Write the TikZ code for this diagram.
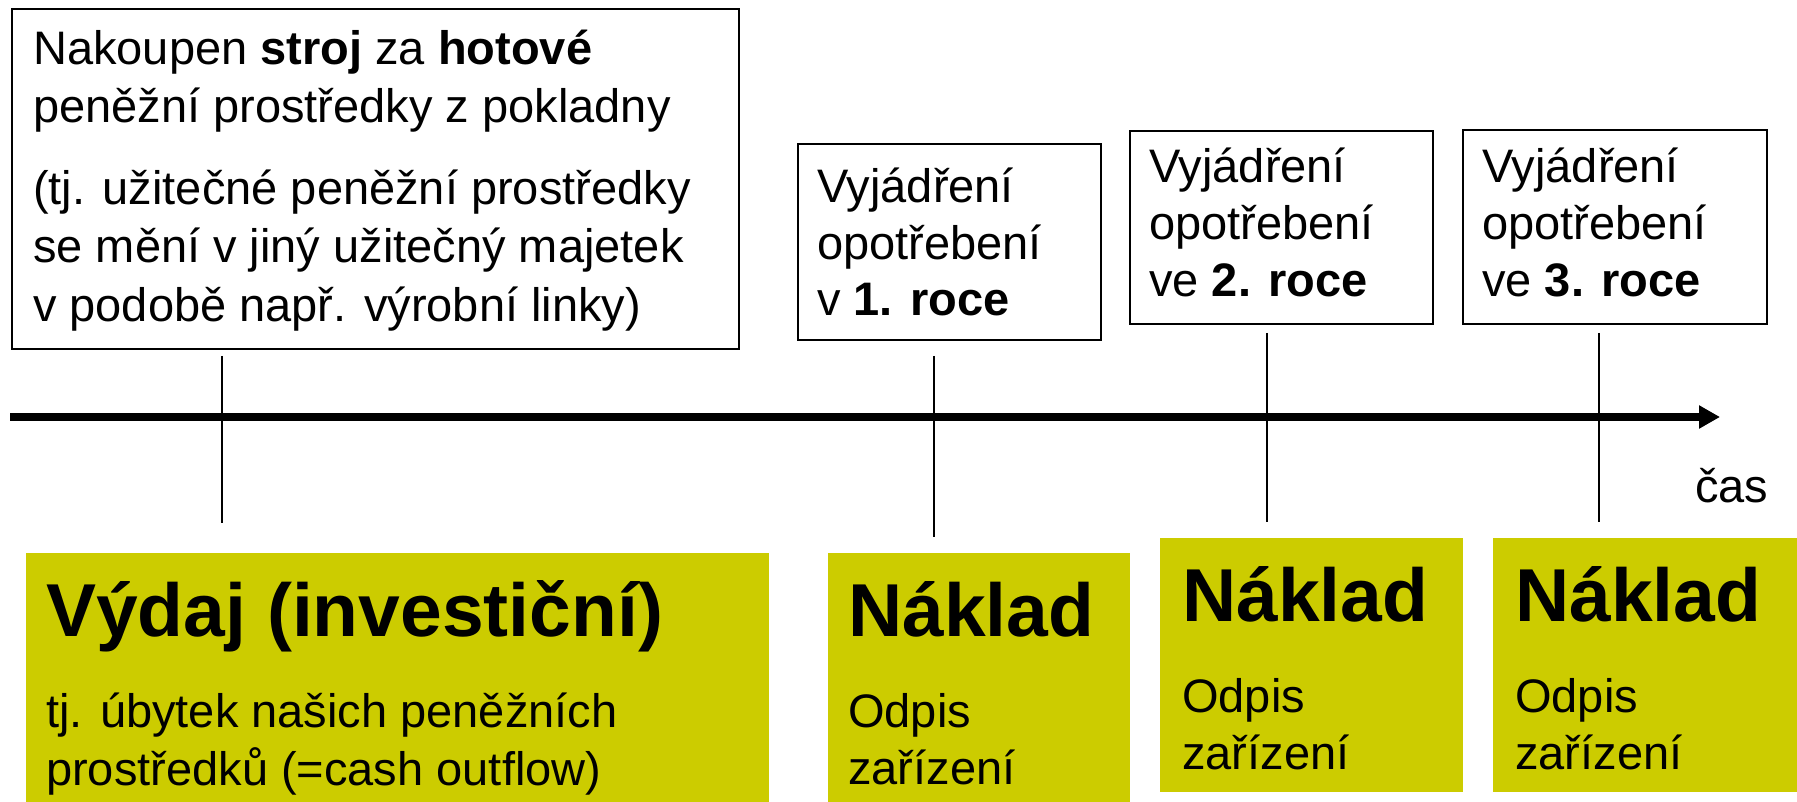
\documentclass[tikz,border=0pt]{standalone}
\usepackage{fontspec}
\setmainfont{Liberation Sans}
\usetikzlibrary{arrows.meta}
\definecolor{boxgreen}{RGB}{204,204,0}
\tikzset{
  frame/.style={draw=black, line width=2pt, fill=white, inner sep=0pt, anchor=north west},
  greenbox/.style={fill=boxgreen, draw=none, inner sep=0pt, anchor=north west},
  txt/.style={anchor=base west, inner sep=0pt, font=\fontsize{47}{57}\selectfont},
  big/.style={anchor=base west, inner sep=0pt, font=\fontsize{75}{90}\selectfont\bfseries},
  tickline/.style={line width=1.6pt},
  axisline/.style={line width=8pt, -{Triangle[length=21pt,width=22pt]}}
}
\begin{document}
\begin{tikzpicture}[x=1pt,y=-1pt]
\useasboundingbox (0,0) rectangle (1797,802);
% top boxes
\node[frame, minimum width=727pt, minimum height=340pt] (b1) at (11,8) {};
\node[frame, minimum width=303pt, minimum height=196pt] (b2) at (797,143) {};
\node[frame, minimum width=303pt, minimum height=193pt] (b3) at (1129,130) {};
\node[frame, minimum width=304pt, minimum height=194pt] (b4) at (1462,129) {};
% top box texts
\node[txt] (b1l1) at (33,65) {Nakoupen \textbf{stroj} za \textbf{hotové}};
\node[txt] (b1l2) at (33,123) {peněžní prostředky z pokladny};
\node[txt] (b1l3) at (33,205) {(tj. užitečné peněžní prostředky};
\node[txt] (b1l4) at (33,263) {se mění v jiný užitečný majetek};
\node[txt] (b1l5) at (33,322) {v podobě např. výrobní linky)};
\node[txt] (b2l1) at (817,203) {Vyjádření};
\node[txt] (b2l2) at (817,260) {opotřebení};
\node[txt] (b2l3) at (817,316) {v \textbf{1. roce}};
\node[txt] (b3l1) at (1149,183) {Vyjádření};
\node[txt] (b3l2) at (1149,240) {opotřebení};
\node[txt] (b3l3) at (1149,297) {ve \textbf{2. roce}};
\node[txt] (b4l1) at (1482,183) {Vyjádření};
\node[txt] (b4l2) at (1482,240) {opotřebení};
\node[txt] (b4l3) at (1482,297) {ve \textbf{3. roce}};
% axis
\coordinate (ax0) at (10,417);
\coordinate (ax1) at (1720,417);
\draw[axisline] (ax0) -- (ax1);
\node[txt] (cas) at (1695,502) {čas};
% ticks
\coordinate (t1a) at (222,356); \coordinate (t1b) at (222,523);
\coordinate (t2a) at (934,356); \coordinate (t2b) at (934,537);
\coordinate (t3a) at (1267,333); \coordinate (t3b) at (1267,522);
\coordinate (t4a) at (1599,333); \coordinate (t4b) at (1599,522);
\draw[tickline] (t1a) -- (t1b);
\draw[tickline] (t2a) -- (t2b);
\draw[tickline] (t3a) -- (t3b);
\draw[tickline] (t4a) -- (t4b);
% green boxes
\node[greenbox, minimum width=743pt, minimum height=249pt] (g1) at (26,553) {};
\node[greenbox, minimum width=302pt, minimum height=249pt] (g2) at (828,553) {};
\node[greenbox, minimum width=303pt, minimum height=254pt] (g3) at (1160,538) {};
\node[greenbox, minimum width=304pt, minimum height=254pt] (g4) at (1493,538) {};
% green box texts
\node[big] (g1h) at (46,636) {Výdaj (investiční)};
\node[txt] (g1l1) at (46,727) {tj. úbytek našich peněžních};
\node[txt] (g1l2) at (46,785) {prostředků (=cash outflow)};
\node[big] (g2h) at (848,636) {Náklad};
\node[txt] (g2l1) at (848,727) {Odpis};
\node[txt] (g2l2) at (848,784) {zařízení};
\node[big] (g3h) at (1182,621) {Náklad};
\node[txt] (g3l1) at (1182,712) {Odpis};
\node[txt] (g3l2) at (1182,769) {zařízení};
\node[big] (g4h) at (1515,621) {Náklad};
\node[txt] (g4l1) at (1515,712) {Odpis};
\node[txt] (g4l2) at (1515,769) {zařízení};
\end{tikzpicture}
\end{document}
